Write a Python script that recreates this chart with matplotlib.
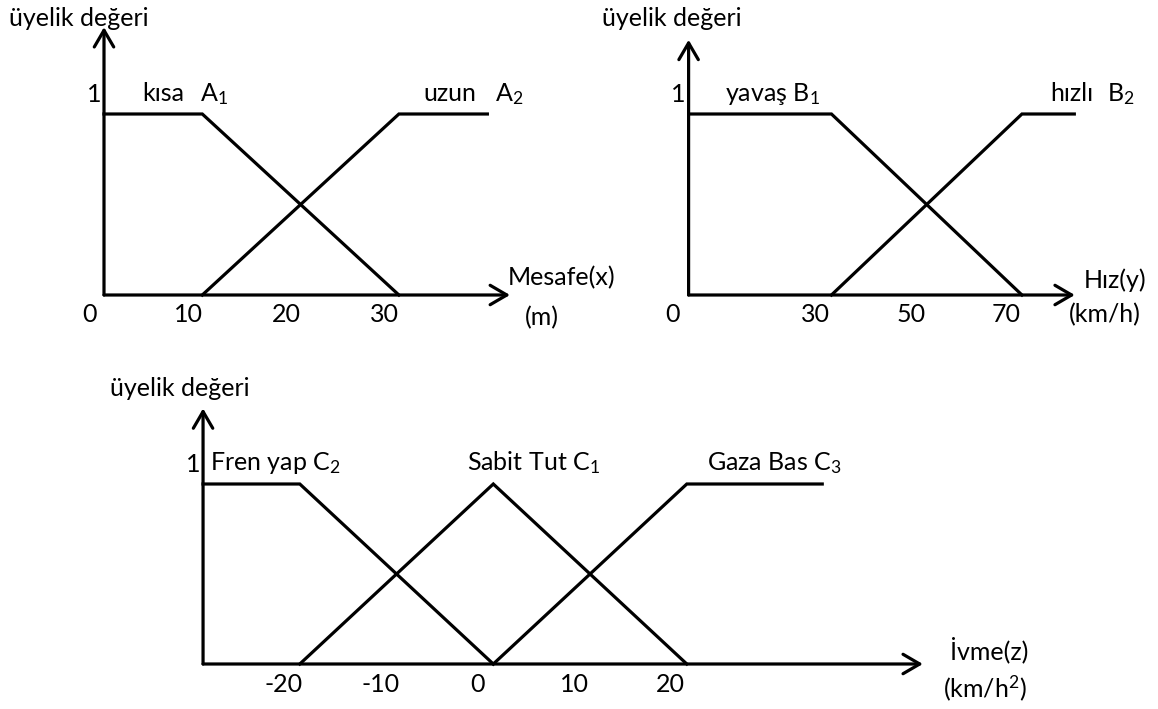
import numpy as np
import matplotlib
matplotlib.use("Agg")
import matplotlib.pyplot as plt
from matplotlib.transforms import Affine2D

plt.rcParams['font.family'] = ['Lato', 'DejaVu Sans']
plt.rcParams['mathtext.fontset'] = 'custom'
plt.rcParams['mathtext.rm'] = 'Lato'
plt.rcParams['mathtext.it'] = 'Lato:italic'
plt.rcParams['mathtext.default'] = 'regular'

W, H = 1158, 709
FS = 18
LW = 2.3

# --- Mesafe (m) ---
mesafe_ticks = [0, 10, 20, 30]
kisa_x = [0, 10, 30]
kisa_y = [1, 1, 0]
uzun_x = [10, 30, 39]
uzun_y = [0, 1, 1]

# --- Hiz (km/h) ---
hiz_ticks = [0, 30, 50, 70]
yavas_x = [0, 30, 70]
yavas_y = [1, 1, 0]
hizli_x = [30, 70, 81]
hizli_y = [0, 1, 1]

# --- Ivme (km/h^2) ---
ivme_ticks = [-20, -10, 0, 10, 20]
fren_x = [-30, -20, 0]
fren_y = [1, 1, 0]
sabit_x = [-20, 0, 20]
sabit_y = [0, 1, 0]
gaza_x = [0, 20, 34]
gaza_y = [0, 1, 1]

fig = plt.figure(figsize=(W / 100, H / 100), dpi=100)
# pixel coordinates (origin top-left) for free-standing labels
PX = Affine2D().scale(1 / W, -1 / H).translate(0, 1) + fig.transFigure


def make_axes(ox, oy, sx, sy, xlim, ylim):
    """Axes whose data origin sits at pixel (ox, oy), sx/sy pixels per unit."""
    left = ox + sx * xlim[0]
    right = ox + sx * xlim[1]
    top = oy - sy * ylim[1]
    bottom = oy - sy * ylim[0]
    ax = fig.add_axes([left / W, 1 - bottom / H, (right - left) / W, (bottom - top) / H])
    ax.set_xlim(xlim)
    ax.set_ylim(ylim)
    ax.axis('off')
    return ax


def arrow(ax, start, end):
    ax.annotate('', xy=end, xytext=start, annotation_clip=False,
                arrowprops=dict(arrowstyle='->, head_length=0.6, head_width=0.35',
                                lw=LW, color='black', mutation_scale=20,
                                shrinkA=0, shrinkB=0))


def draw_panel(ax, x0, xmax, ymax, ticks, dx, curves):
    arrow(ax, (x0, 0), (x0, ymax))
    arrow(ax, (x0, 0), (xmax, 0))
    for xs, ys in curves:
        ax.plot(xs, ys, color='black', lw=LW, solid_joinstyle='miter', clip_on=False)
    for t in ticks:
        ax.annotate(str(t), xy=(t, 0), xytext=(dx, -20), textcoords='offset pixels',
                    ha='center', va='center', fontsize=FS)
    ax.annotate('1', xy=(x0, 1), xytext=(-10, 20), textcoords='offset pixels',
                ha='center', va='center', fontsize=FS)


def label(px, py, s, va='center'):
    fig.text(px, py, s, transform=PX, ha='left', va=va, fontsize=FS)


# panel 1: Mesafe
ax1 = make_axes(104, 295, 9.83, 181, (-10, 52), (-0.25, 1.55))
draw_panel(ax1, 0, 41.3, 1.48, mesafe_ticks, -14,
           [(kisa_x, kisa_y), (uzun_x, uzun_y)])
label(9, 18, 'üyelik değeri')
label(142, 101, 'kısa', va='baseline')
label(200, 101, r'A$_1$', va='baseline')
label(423, 101, 'uzun', va='baseline')
label(495, 101, r'A$_2$', va='baseline')
label(508, 278, 'Mesafe(x)')
label(525, 318, '(m)')

# panel 2: Hiz
ax2 = make_axes(688.6, 295, 4.762, 181, (-5, 95), (-0.25, 1.55))
draw_panel(ax2, 0, 81.1, 1.41, hiz_ticks, -16,
           [(yavas_x, yavas_y), (hizli_x, hizli_y)])
label(602, 18, 'üyelik değeri')
label(725, 101, r'yavaş B$_1$', va='baseline')
label(1050, 101, 'hızlı', va='baseline')
label(1107, 101, r'B$_2$', va='baseline')
label(1084, 280, 'Hız(y)')
label(1069, 315, '(km/h)')

# panel 3: Ivme
ax3 = make_axes(493.3, 664, 9.675, 180, (-32, 48), (-0.25, 1.55))
draw_panel(ax3, -30, 44.4, 1.42, ivme_ticks, -16,
           [(fren_x, fren_y), (sabit_x, sabit_y), (gaza_x, gaza_y)])
label(110, 388, 'üyelik değeri')
label(210, 470, r'Fren yap C$_2$', va='baseline')
label(467, 470, r'Sabit Tut C$_1$', va='baseline')
label(707, 470, r'Gaza Bas C$_3$', va='baseline')
label(950, 650, 'İvme(z)')
label(943, 688, r'(km/h$^2$)')

fig.savefig('out.png', dpi=100)
